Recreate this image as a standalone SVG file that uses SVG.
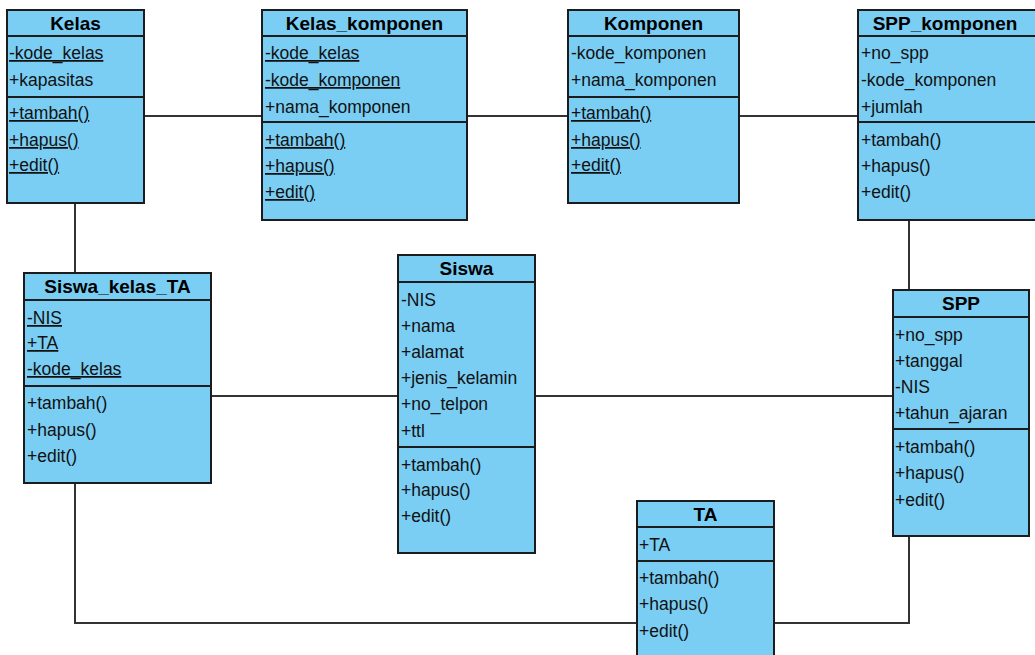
<svg xmlns="http://www.w3.org/2000/svg" width="1035" height="655" viewBox="0 0 1035 655">
<style>
.box{fill:#7acef4;stroke:#1c1c1c;stroke-width:2}
.sep{stroke:#1c1c1c;stroke-width:2}
.t{font-family:"Liberation Sans",Arial,sans-serif;font-size:17.5px;fill:#111}
.h{font-family:"Liberation Sans",Arial,sans-serif;font-size:19px;font-weight:bold;fill:#000;text-anchor:middle}
.u{text-decoration:underline}
.c{fill:none;stroke:#333;stroke-width:2}
</style>
<rect width="1035" height="655" fill="#fff"/>
<g id="connectors">
<line class="c" x1="144" y1="116" x2="262" y2="116"/>
<line class="c" x1="467" y1="116" x2="568" y2="116"/>
<line class="c" x1="739" y1="116" x2="858" y2="116"/>
<line class="c" x1="75" y1="203" x2="75" y2="273"/>
<line class="c" x1="909" y1="220" x2="909" y2="290"/>
<line class="c" x1="211" y1="396" x2="398" y2="396"/>
<line class="c" x1="535" y1="396" x2="893" y2="396"/>
<polyline class="c" points="75,483 75,623 637,623"/>
<polyline class="c" points="909,536 909,623 774,623"/>
</g>
<g id="Kelas">
<rect class="box" x="7" y="10" width="137" height="193"/>
<line class="sep" x1="7" y1="36" x2="144" y2="36"/>
<line class="sep" x1="7" y1="97" x2="144" y2="97"/>
<text class="h" x="75.5" y="29.5">Kelas</text>
<text class="t u" x="9" y="59">-kode_kelas</text>
<text class="t" x="9" y="86">+kapasitas</text>
<text class="t u" x="9" y="119">+tambah()</text>
<text class="t u" x="9" y="146">+hapus()</text>
<text class="t u" x="9" y="171">+edit()</text>
</g>
<g id="Kelas_komponen">
<rect class="box" x="262" y="10" width="205" height="210"/>
<line class="sep" x1="262" y1="36" x2="467" y2="36"/>
<line class="sep" x1="262" y1="122" x2="467" y2="122"/>
<text class="h" x="364.5" y="29.5">Kelas_komponen</text>
<text class="t u" x="265" y="59">-kode_kelas</text>
<text class="t u" x="265" y="86">-kode_komponen</text>
<text class="t" x="265" y="113">+nama_komponen</text>
<text class="t u" x="265" y="146">+tambah()</text>
<text class="t u" x="265" y="172">+hapus()</text>
<text class="t u" x="265" y="198">+edit()</text>
</g>
<g id="Komponen">
<rect class="box" x="568" y="10" width="171" height="193"/>
<line class="sep" x1="568" y1="36" x2="739" y2="36"/>
<line class="sep" x1="568" y1="97" x2="739" y2="97"/>
<text class="h" x="653.5" y="29.5">Komponen</text>
<text class="t" x="571" y="59">-kode_komponen</text>
<text class="t" x="571" y="86">+nama_komponen</text>
<text class="t u" x="571" y="119">+tambah()</text>
<text class="t u" x="571" y="146">+hapus()</text>
<text class="t u" x="571" y="171">+edit()</text>
</g>
<g id="SPP_komponen">
<rect class="box" x="858" y="10" width="190" height="210"/>
<line class="sep" x1="858" y1="36" x2="1048" y2="36"/>
<line class="sep" x1="858" y1="122" x2="1048" y2="122"/>
<text class="h" x="945" y="29.5">SPP_komponen</text>
<text class="t" x="861" y="59">+no_spp</text>
<text class="t" x="861" y="86">-kode_komponen</text>
<text class="t" x="861" y="113">+jumlah</text>
<text class="t" x="861" y="146">+tambah()</text>
<text class="t" x="861" y="172">+hapus()</text>
<text class="t" x="861" y="198">+edit()</text>
</g>
<g id="Siswa_kelas_TA">
<rect class="box" x="24" y="273" width="187" height="210"/>
<line class="sep" x1="24" y1="300" x2="211" y2="300"/>
<line class="sep" x1="24" y1="386" x2="211" y2="386"/>
<text class="h" x="117.5" y="293">Siswa_kelas_TA</text>
<text class="t u" x="27" y="324">-NIS</text>
<text class="t u" x="27" y="349">+TA</text>
<text class="t u" x="27" y="375">-kode_kelas</text>
<text class="t" x="27" y="409">+tambah()</text>
<text class="t" x="27" y="436">+hapus()</text>
<text class="t" x="27" y="462">+edit()</text>
</g>
<g id="Siswa">
<rect class="box" x="398" y="255" width="137" height="298"/>
<line class="sep" x1="398" y1="282" x2="535" y2="282"/>
<line class="sep" x1="398" y1="447" x2="535" y2="447"/>
<text class="h" x="466.5" y="275">Siswa</text>
<text class="t" x="401" y="306">-NIS</text>
<text class="t" x="401" y="332">+nama</text>
<text class="t" x="401" y="358">+alamat</text>
<text class="t" x="401" y="384">+jenis_kelamin</text>
<text class="t" x="401" y="410">+no_telpon</text>
<text class="t" x="401" y="437">+ttl</text>
<text class="t" x="401" y="471">+tambah()</text>
<text class="t" x="401" y="496">+hapus()</text>
<text class="t" x="401" y="522">+edit()</text>
</g>
<g id="SPP">
<rect class="box" x="893" y="290" width="136" height="246"/>
<line class="sep" x1="893" y1="317" x2="1029" y2="317"/>
<line class="sep" x1="893" y1="429" x2="1029" y2="429"/>
<text class="h" x="961" y="310">SPP</text>
<text class="t" x="895" y="341">+no_spp</text>
<text class="t" x="895" y="367">+tanggal</text>
<text class="t" x="895" y="393">-NIS</text>
<text class="t" x="895" y="419">+tahun_ajaran</text>
<text class="t" x="895" y="453">+tambah()</text>
<text class="t" x="895" y="479">+hapus()</text>
<text class="t" x="895" y="506">+edit()</text>
</g>
<g id="TA">
<rect class="box" x="637" y="501" width="137" height="170"/>
<line class="sep" x1="637" y1="527" x2="774" y2="527"/>
<line class="sep" x1="637" y1="561" x2="774" y2="561"/>
<text class="h" x="705.5" y="520.5">TA</text>
<text class="t" x="639" y="551">+TA</text>
<text class="t" x="639" y="584">+tambah()</text>
<text class="t" x="639" y="610">+hapus()</text>
<text class="t" x="639" y="637">+edit()</text>
</g>
</svg>
